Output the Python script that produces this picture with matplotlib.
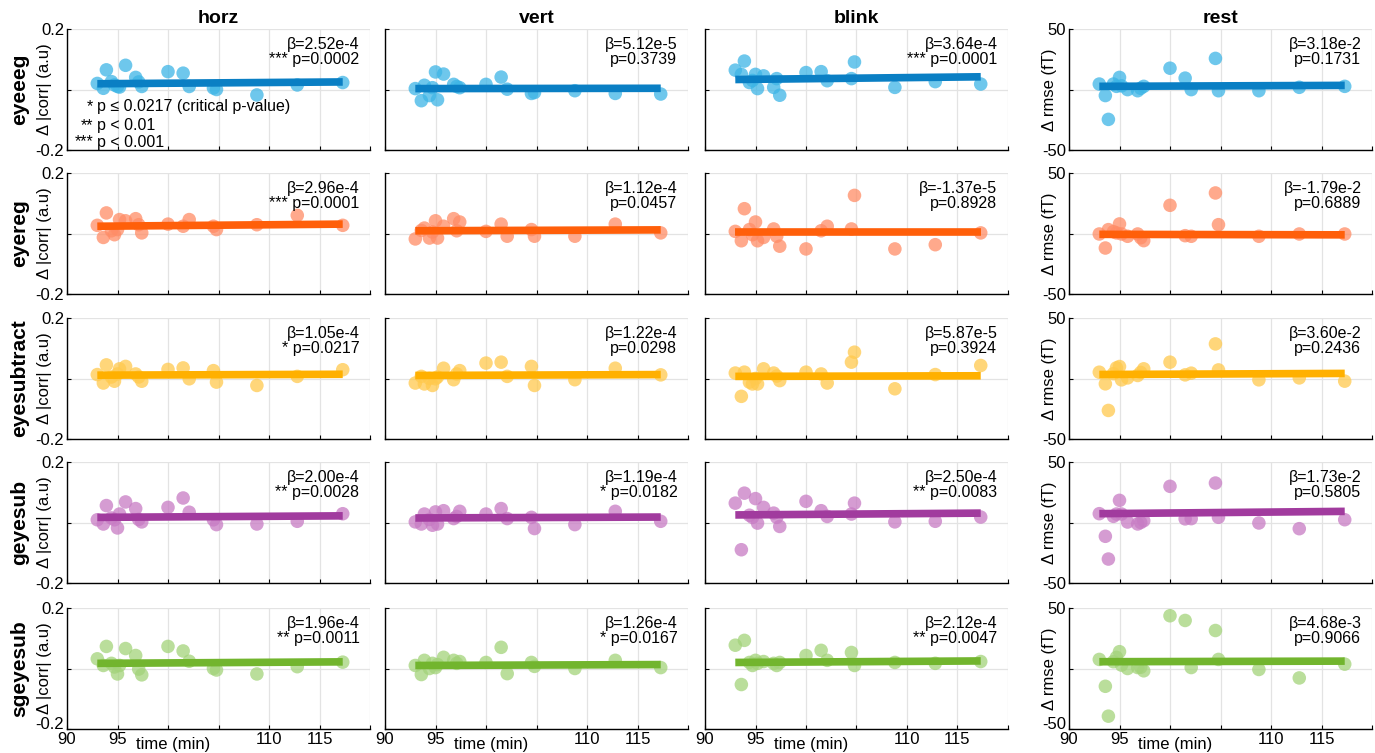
import numpy as np
import matplotlib.pyplot as plt
import matplotlib.transforms as mtransforms

# recording times (min) of the sessions
t = [93.0, 93.6, 93.9, 94.4, 94.7, 95.0, 95.2, 95.8, 96.8, 97.1, 97.4,
     100.0, 101.5, 102.1, 104.5, 104.8, 108.8, 112.8, 117.3]

methods = ["eyeeeg", "eyereg", "eyesubtract", "geyesub", "sgeyesub"]
conds = ["horz", "vert", "blink", "rest"]

# delta |corr| per session (horz, vert, blink) and delta rmse (rest)
eyeeeg_horz = [0.020, 0.004, 0.065, 0.026, 0.015, 0.010, 0.008, 0.080, 0.040, 0.025, 0.010,
               0.059, 0.054, 0.010, 0.005, 0.000, -0.018, 0.015, 0.023]
eyeeeg_vert = [0.003, -0.037, 0.014, -0.020, 0.006, 0.058, -0.034, 0.051, 0.017, 0.010, 0.006,
               0.017, 0.041, 0.001, -0.013, -0.010, -0.004, -0.013, -0.015]
eyeeeg_blink = [0.064, 0.050, 0.094, 0.023, 0.030, 0.050, 0.003, 0.045, 0.007, 0.036, -0.019,
                0.056, 0.059, 0.029, 0.036, 0.091, 0.007, 0.026, 0.018]
eyeeeg_rest = [4.5, -5.0, -24.7, 4.5, 2.6, 10.0, 3.0, -0.1, -1.0, 1.0, 2.6,
               17.6, 9.4, -0.1, 25.7, -1.0, -1.0, 1.8, 2.6]

eyereg_horz = [0.027, -0.013, 0.068, 0.009, -0.004, 0.013, 0.046, 0.042, 0.049, 0.029, 0.002,
               0.031, 0.024, 0.046, 0.024, 0.013, 0.029, 0.060, 0.027]
eyereg_vert = [-0.018, 0.010, 0.018, -0.015, 0.005, 0.042, -0.015, 0.024, 0.049, 0.009, 0.038,
               0.007, 0.031, -0.009, 0.013, -0.009, -0.009, 0.031, 0.002]
eyereg_blink = [0.007, -0.024, 0.082, 0.013, -0.004, 0.038, -0.024, -0.013, 0.015, -0.009, -0.042,
                -0.051, 0.009, 0.024, 0.015, 0.126, -0.051, -0.037, 0.002]
eyereg_rest = [-0.4, -12.0, 3.2, 1.5, 0.5, 7.9, -0.4, -2.3, -0.4, -3.5, -5.9,
               23.3, -1.8, -2.3, 33.5, 7.3, -2.3, -0.4, -0.4]

eyesubtract_horz = [0.013, -0.015, 0.045, 0.005, -0.009, 0.015, 0.032, 0.040, 0.015, 0.005, -0.009,
                    0.030, 0.035, -0.001, 0.026, -0.012, -0.023, 0.007, 0.029]
eyesubtract_vert = [-0.015, 0.007, -0.018, 0.000, -0.023, -0.001, 0.005, 0.034, -0.004, 0.015, 0.026,
                    0.051, 0.054, 0.007, 0.040, -0.023, -0.004, 0.034, 0.012]
eyesubtract_blink = [0.018, -0.059, 0.021, -0.012, -0.018, 0.000, -0.018, 0.032, 0.018, 0.008, -0.007,
                     0.021, 0.015, -0.015, 0.054, 0.087, -0.034, 0.013, 0.043]
eyesubtract_rest = [5.2, -4.4, -26.4, 4.0, 8.8, 9.9, -1.1, 0.5, 2.5, 5.0, 8.0,
                    13.5, 3.0, 4.4, 28.6, 7.1, -1.1, 0.5, -2.2]

geyesub_horz = [0.009, -0.005, 0.056, 0.015, 0.009, -0.018, 0.028, 0.068, 0.046, 0.010, 0.002,
                0.050, 0.081, 0.034, 0.009, -0.007, -0.005, 0.004, 0.029]
geyesub_vert = [0.002, -0.005, 0.028, 0.010, -0.009, 0.035, -0.005, 0.039, 0.013, 0.020, 0.037,
                0.028, 0.046, 0.013, 0.017, -0.020, -0.007, 0.037, 0.004]
geyesub_blink = [0.064, -0.090, 0.097, 0.024, 0.017, 0.079, -0.002, 0.050, 0.031, 0.017, -0.013,
                 0.070, 0.039, 0.020, 0.028, 0.064, 0.002, 0.004, 0.018]
geyesub_rest = [7.3, -11.4, -30.2, 5.1, 7.0, 18.3, 7.0, 0.4, -1.2, 0.0, 1.5,
                29.9, 3.0, 3.2, 32.6, 4.3, -0.4, -5.1, 2.3]

sgeyesub_horz = [0.032, 0.010, 0.073, 0.017, 0.005, -0.018, 0.010, 0.066, 0.043, -0.002, -0.021,
                 0.073, 0.058, 0.024, 0.000, -0.005, -0.018, 0.006, 0.021]
sgeyesub_vert = [0.010, -0.020, 0.027, 0.000, 0.017, 0.003, 0.013, 0.037, 0.027, 0.017, 0.023,
                 0.020, 0.070, -0.017, 0.020, 0.007, 0.000, 0.027, 0.003]
sgeyesub_blink = [0.077, -0.053, 0.093, 0.020, 0.010, 0.027, 0.017, 0.023, 0.017, 0.010, 0.020,
                  0.043, 0.060, 0.027, 0.053, 0.010, 0.020, 0.017, 0.023]
sgeyesub_rest = [7.5, -14.7, -39.4, 5.6, 9.2, 13.9, 2.8, 0.0, 0.8, 1.0, -1.9,
                 43.6, 39.7, 0.8, 31.4, 7.5, -0.8, -7.8, 3.6]

data = [
    [eyeeeg_horz, eyeeeg_vert, eyeeeg_blink, eyeeeg_rest],
    [eyereg_horz, eyereg_vert, eyereg_blink, eyereg_rest],
    [eyesubtract_horz, eyesubtract_vert, eyesubtract_blink, eyesubtract_rest],
    [geyesub_horz, geyesub_vert, geyesub_blink, geyesub_rest],
    [sgeyesub_horz, sgeyesub_vert, sgeyesub_blink, sgeyesub_rest],
]

# fitted line value at first and last session
fit_start = [[0.019, 0.003, 0.033, 2.6],
             [0.024, 0.009, 0.005, -0.7],
             [0.011, 0.010, 0.007, 3.3],
             [0.017, 0.015, 0.025, 7.3],
             [0.017, 0.010, 0.020, 5.6]]
fit_end = [[0.025, 0.004, 0.042, 3.4],
           [0.031, 0.012, 0.005, -1.1],
           [0.014, 0.013, 0.009, 4.2],
           [0.022, 0.018, 0.031, 9.2],
           [0.022, 0.013, 0.025, 6.1]]

betas = [[2.52e-4, 5.12e-5, 3.64e-4, 3.18e-2],
         [2.96e-4, 1.12e-4, -1.37e-5, -1.79e-2],
         [1.05e-4, 1.22e-4, 5.87e-5, 3.60e-2],
         [2.00e-4, 1.19e-4, 2.50e-4, 1.73e-2],
         [1.96e-4, 1.26e-4, 2.12e-4, 4.68e-3]]
pvals = [[0.0002, 0.3739, 0.0001, 0.1731],
         [0.0001, 0.0457, 0.8928, 0.6889],
         [0.0217, 0.0298, 0.3924, 0.2436],
         [0.0028, 0.0182, 0.0083, 0.5805],
         [0.0011, 0.0167, 0.0047, 0.9066]]

line_colors = ["#0A7FC4", "#FF5F0A", "#FFB000", "#A13B9E", "#72B52E"]
dot_colors = ["#3DB5E6", "#FF8C66", "#FFC94D", "#C77BC4", "#A3D37A"]


def fmt_beta(b):
    m, e = f"{b:.2e}".split("e")
    return f"β={m}e{int(e)}"


def stars(p):
    if p < 0.001:
        return "*** "
    if p < 0.01:
        return "** "
    if p <= 0.0217:
        return "* "
    return ""


W, H = 1375, 753
fig = plt.figure(figsize=(W / 100, H / 100), dpi=100)
plt.rcParams['font.family'] = ['Liberation Sans', 'DejaVu Sans']

col_left = [67, 385, 705, 1069]
row_top = [29, 173, 318, 462, 608]
aw, ah = 303, 121

for r in range(5):
    for c in range(4):
        ax = fig.add_axes([col_left[c] / W, 1 - (row_top[r] + ah) / H, aw / W, ah / H])
        rest = c == 3
        ax.scatter(t, data[r][c], s=95, color=dot_colors[r], alpha=0.75,
                   edgecolors='none', zorder=2)
        ax.plot([t[0], t[-1]], [fit_start[r][c], fit_end[r][c]],
                color=line_colors[r], lw=5.5, solid_capstyle='butt', zorder=3)

        lim = 50 if rest else 0.2
        ax.set_xlim(90, 120)
        ax.set_ylim(-lim, lim)
        ax.set_xticks([90, 95, 100, 105, 110, 115, 120])
        ax.set_yticks([-lim, 0, lim])
        ax.grid(True, color='#e3e3e3', lw=0.9, zorder=0)
        ax.set_axisbelow(True)
        for s in ['top', 'right']:
            ax.spines[s].set_visible(False)
        for s in ['left', 'bottom']:
            ax.spines[s].set_linewidth(1.0)
        ax.tick_params(direction='in', length=3, labelsize=12, pad=2)
        ax.tick_params(axis='x', pad=2)

        if r == 4:
            ax.set_xticklabels(['90', '95', '', '', '110', '115', ''])
            ax.set_xlabel('time (min)', fontsize=12)
            ax.xaxis.set_label_coords(0.35, -0.07)
        else:
            ax.set_xticklabels([])

        if c == 0:
            ax.set_yticklabels(['-0.2', '', '0.2'])
            ax.set_ylabel('Δ |corr| (a.u)', fontsize=12)
            ax.yaxis.set_label_coords(-0.05, 0.5)
            ax.text(-0.155, 0.5, methods[r], transform=ax.transAxes, rotation=90,
                    ha='center', va='center', fontsize=15, fontweight='bold')
        elif rest:
            ax.set_yticklabels(['-50', '', '50'])
            ax.set_ylabel('Δ rmse (fT)', fontsize=12)
            ax.yaxis.set_label_coords(-0.04, 0.5)
        else:
            ax.set_yticklabels([])

        # lift the lowest y label of the bottom row a little off the x labels
        if r == 4 and (c == 0 or rest):
            lab = ax.get_yticklabels()[0]
            lab.set_transform(lab.get_transform() +
                              mtransforms.ScaledTranslation(0, 4 / 72, fig.dpi_scale_trans))

        if r == 0:
            ax.set_title(conds[c], fontsize=14, fontweight='bold', pad=4)

        ax.text(0.965, 0.875, fmt_beta(betas[r][c]), transform=ax.transAxes,
                ha='right', va='center', fontsize=11.5)
        ax.text(0.965, 0.745, stars(pvals[r][c]) + f"p={pvals[r][c]:.4f}",
                transform=ax.transAxes, ha='right', va='center', fontsize=11.5)

        if r == 0 and c == 0:
            keys = ["*", "**", "***"]
            descs = ["p ≤ 0.0217 (critical p-value)", "p < 0.01", "p < 0.001"]
            ys = [0.36, 0.20, 0.065]
            for k, d, y in zip(keys, descs, ys):
                ax.text(0.087, y, k, transform=ax.transAxes, ha='right', va='center', fontsize=11.5)
                ax.text(0.10, y, d, transform=ax.transAxes, ha='left', va='center', fontsize=11.5)

fig.savefig('out.png', dpi=100)
